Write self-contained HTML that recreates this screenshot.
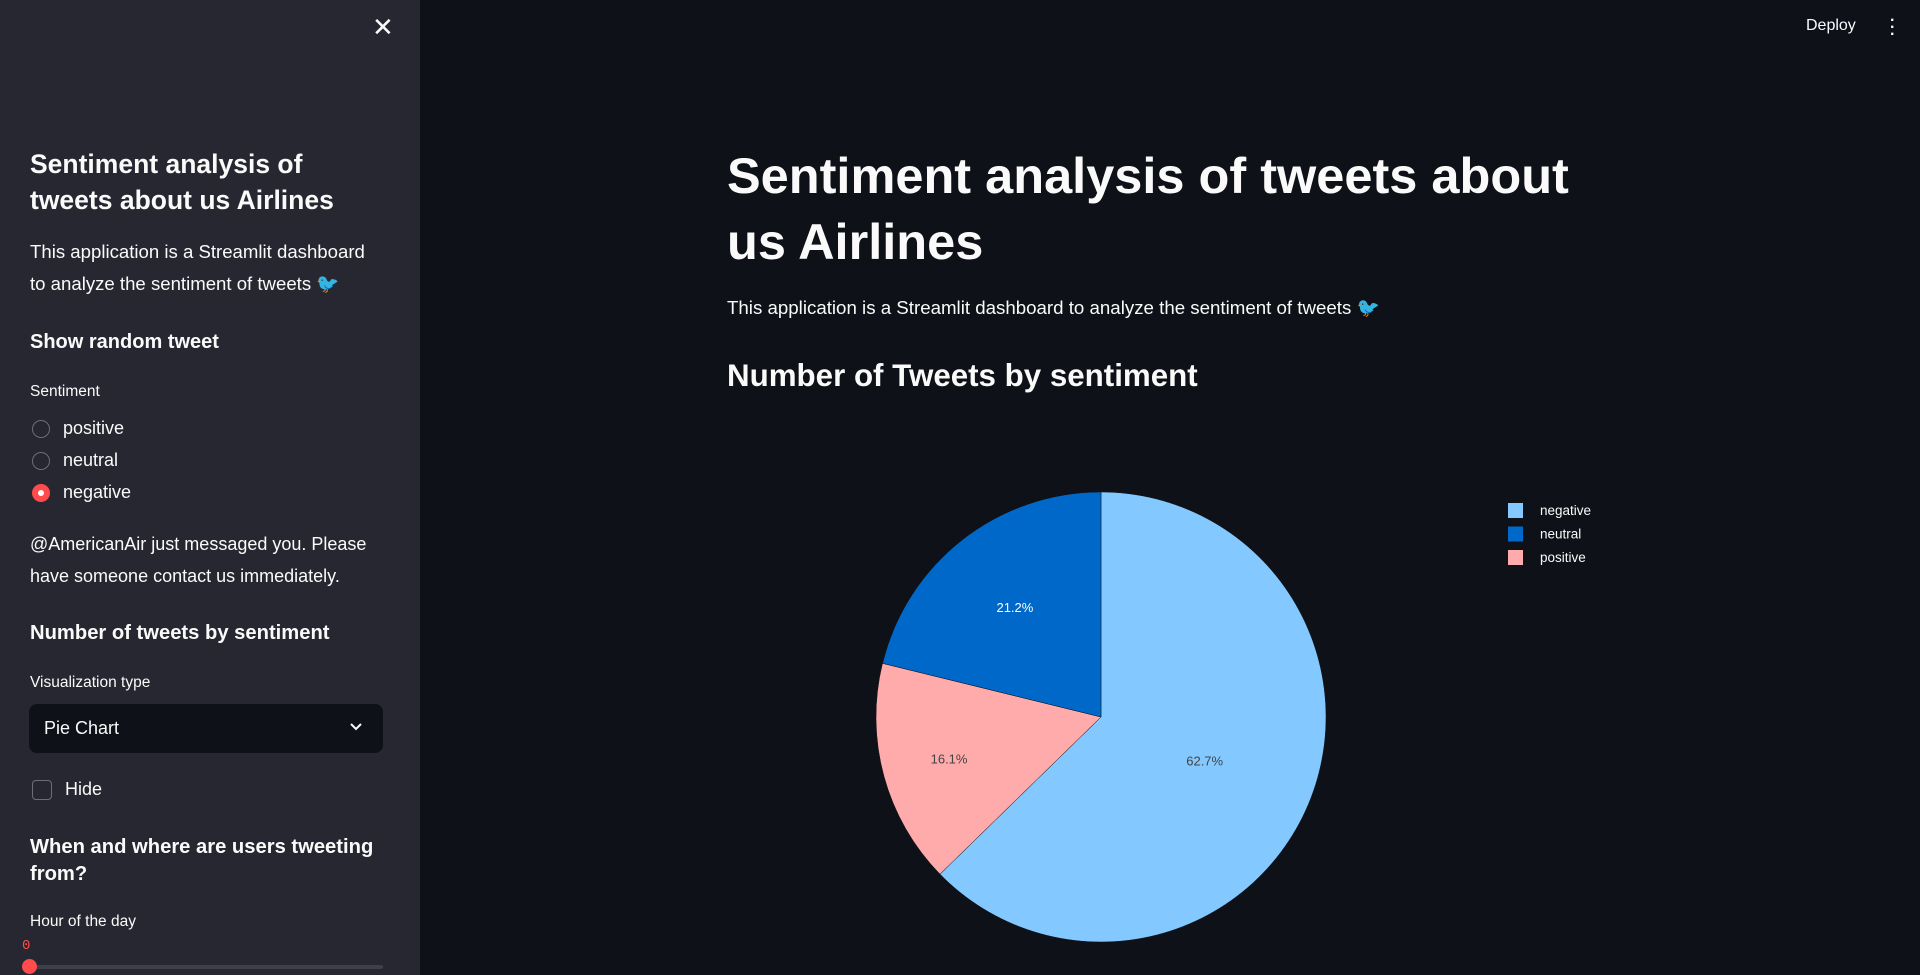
<!DOCTYPE html>
<html><head><meta charset="utf-8"><style>
body{margin:0;width:1920px;height:975px;background:#0e1117;font-family:"Liberation Sans",sans-serif;color:#fafafa;overflow:hidden;position:relative}
.a{position:absolute;white-space:nowrap}
#side{position:absolute;left:0;top:0;width:420px;height:975px;background:#262730}
.b{font-weight:bold}
</style></head><body>
<div id="side">
<div class="a" style="left:372px;top:12px;font-size:26px">✕</div>
<div class="a b" style="left:30px;top:146px;font-size:26.5px;line-height:36px">Sentiment analysis of<br>tweets about us Airlines</div>
<div class="a" style="left:30px;top:236px;font-size:18.6px;line-height:32px">This application is a Streamlit dashboard<br>to analyze the sentiment of tweets <span style="color:#c0143c">🐦</span></div>
<div class="a b" style="left:30px;top:331px;font-size:20px">Show random tweet</div>
<div class="a" style="left:30px;top:383px;font-size:15.5px">Sentiment</div>
<div class="a" style="left:32px;top:420px;width:18px;height:18px;border:1.5px solid #6c6e78;border-radius:50%;box-sizing:border-box"></div>
<div class="a" style="left:63px;top:418px;font-size:18px">positive</div>
<div class="a" style="left:32px;top:452px;width:18px;height:18px;border:1.5px solid #6c6e78;border-radius:50%;box-sizing:border-box"></div>
<div class="a" style="left:63px;top:450px;font-size:18px">neutral</div>
<div class="a" style="left:32px;top:484px;width:18px;height:18px;background:#ff4b4b;border-radius:50%"><div style="position:absolute;left:6px;top:6px;width:6px;height:6px;background:#fff;border-radius:50%"></div></div>
<div class="a" style="left:63px;top:482px;font-size:18px">negative</div>
<div class="a" style="left:30px;top:528px;font-size:18px;line-height:32px">@AmericanAir just messaged you. Please<br>have someone contact us immediately.</div>
<div class="a b" style="left:30px;top:622px;font-size:20.2px">Number of tweets by sentiment</div>
<div class="a" style="left:30px;top:674px;font-size:15.5px">Visualization type</div>
<div class="a" style="left:29px;top:704px;width:354px;height:49px;background:#0e1117;border-radius:8px">
<div class="a" style="left:15px;top:14px;font-size:18px">Pie Chart</div>
<svg class="a" style="left:320px;top:18px" width="14" height="10"><path d="M2 2 L7 7 L12 2" stroke="#fafafa" stroke-width="2" fill="none"/></svg></div>
<div class="a" style="left:32px;top:780px;width:20px;height:20px;border:1.5px solid #6c6e78;border-radius:4px;box-sizing:border-box"></div>
<div class="a" style="left:65px;top:779px;font-size:18px">Hide</div>
<div class="a b" style="left:30px;top:834px;font-size:20.2px;line-height:27px">When and where are users tweeting<br>from?</div>
<div class="a" style="left:30px;top:913px;font-size:15.5px">Hour of the day</div>
<div class="a" style="left:22px;top:938px;font-size:14px;color:#ff4b4b;font-family:'Liberation Mono',monospace">0</div>
<div class="a" style="left:29px;top:965px;width:354px;height:4px;background:#3d3f4a;border-radius:2px"></div>
<div class="a" style="left:22px;top:959px;width:15px;height:15px;background:#ff4b4b;border-radius:50%"></div>
</div>
<div class="a" style="left:1806px;top:17px;font-size:16px">Deploy</div>
<div class="a" style="left:1890px;top:17px;font-size:16px;line-height:7px;font-weight:bold">·<br>·<br>·</div>
<div class="a b" style="left:727px;top:143px;font-size:50.5px;line-height:66px">Sentiment analysis of tweets about<br>us Airlines</div>
<div class="a" style="left:727px;top:297px;font-size:18.7px">This application is a Streamlit dashboard to analyze the sentiment of tweets <span style="color:#c0143c">🐦</span></div>
<div class="a b" style="left:727px;top:358px;font-size:31.3px">Number of Tweets by sentiment</div>
<svg class="a" style="left:0;top:0" width="1920" height="975" id="chart"></svg>
<script>
const labels=["negative","positive","neutral"];
const values=[9178,2363,3099];
const colors={negative:"#83c9ff",neutral:"#0068c9",positive:"#ffabab"};
const legendOrder=["negative","neutral","positive"];
const svg=document.getElementById('chart');const NS="http://www.w3.org/2000/svg";
const cx=1101,cy=717,r=225;
const total=values.reduce((a,b)=>a+b,0);
let ang=0;
labels.forEach((l,i)=>{
 const f=values[i]/total,a0=ang,a1=ang+f*2*Math.PI;ang=a1;
 const p=a=>[cx+r*Math.sin(a),cy-r*Math.cos(a)];
 const [x0,y0]=p(a0),[x1,y1]=p(a1);
 const path=document.createElementNS(NS,'path');
 path.setAttribute('d',`M${cx},${cy} L${x0},${y0} A${r},${r} 0 ${f>0.5?1:0} 1 ${x1},${y1} Z`);
 path.setAttribute('fill',colors[l]);path.setAttribute('stroke','#0e1117');path.setAttribute('stroke-width','0.5');
 
 
 svg.appendChild(path);
 const am=(a0+a1)/2,rr=r*(f>0.5?0.5:(f<0.18?0.7:0.62));
 const t=document.createElementNS(NS,'text');
 t.setAttribute('x',cx+rr*Math.sin(am));t.setAttribute('y',cy-rr*Math.cos(am)+5);
 t.setAttribute('text-anchor','middle');t.setAttribute('font-size','13');t.setAttribute('font-family','Liberation Sans, sans-serif');
 t.setAttribute('fill',l==='neutral'?'#ffffff':'#444444');
 t.textContent=(f*100).toFixed(1)+'%';
 
 
 svg.appendChild(t);
});
legendOrder.forEach((l,i)=>{
 const y=510+i*23.5;
 const rc=document.createElementNS(NS,'rect');
 rc.setAttribute('x',1508);rc.setAttribute('y',y-7);rc.setAttribute('width',15);rc.setAttribute('height',15);rc.setAttribute('fill',colors[l]);
 
 
 svg.appendChild(rc);
 const t=document.createElementNS(NS,'text');
 t.setAttribute('x',1540);t.setAttribute('y',y+5);t.setAttribute('font-size','13.5');t.setAttribute('fill','#fafafa');t.setAttribute('font-family','Liberation Sans, sans-serif');
 t.textContent=l;
 
 
 svg.appendChild(t);
});
</script>
</body></html>
